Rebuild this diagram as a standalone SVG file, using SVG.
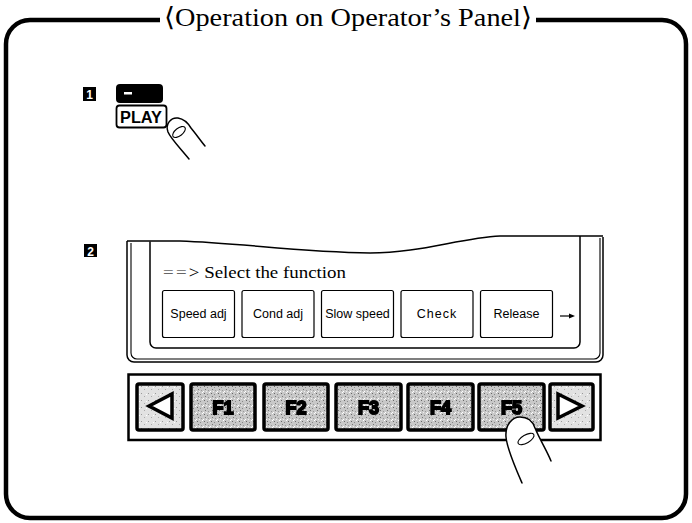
<svg xmlns="http://www.w3.org/2000/svg" width="692" height="523" viewBox="0 0 692 523">
  <defs>
    <pattern id="stipple" width="7" height="7" patternUnits="userSpaceOnUse">
      <rect width="7" height="7" fill="#c8c8c8"/>
      <rect x="1" y="1" width="1" height="1" fill="#666"/>
      <rect x="4" y="2" width="1" height="1" fill="#888"/>
      <rect x="2" y="4" width="1" height="1" fill="#777"/>
      <rect x="5" y="5" width="1" height="1" fill="#999"/>
      <rect x="6" y="0" width="1" height="1" fill="#fff"/>
      <rect x="0" y="6" width="1" height="1" fill="#fff"/>
      <rect x="3" y="6" width="1" height="1" fill="#eee"/>
    </pattern>
    <pattern id="stippleLight" width="7" height="7" patternUnits="userSpaceOnUse">
      <rect width="7" height="7" fill="#e2e2e2"/>
      <rect x="1" y="1" width="1" height="1" fill="#999"/>
      <rect x="4" y="4" width="1" height="1" fill="#aaa"/>
      <rect x="6" y="2" width="1" height="1" fill="#fff"/>
    </pattern>
    <filter id="smear" x="-20%" y="-20%" width="140%" height="140%">
      <feGaussianBlur stdDeviation="0.7"/>
    </filter>
  </defs>
  <style>
    .frame { fill: none; stroke: #000; stroke-width: 4.5; }
    .title { font-family: "Liberation Serif", "DejaVu Serif", serif; font-size: 26px; fill: #000; }
    .step { fill: #000; }
    .stepnum { font-family: "Liberation Sans", Arial, sans-serif; font-weight: bold; font-size: 12px; fill: #fff; }
    .line { fill: none; stroke: #000; stroke-width: 1.5; }
    .thin { fill: none; stroke: #000; stroke-width: 1.1; }
    .soft { fill: #fff; stroke: #000; stroke-width: 1.2; }
    .softtxt { font-family: "Liberation Sans", Arial, sans-serif; font-size: 12.5px; fill: #000; text-anchor: middle; }
    .msg { font-family: "Liberation Serif", "DejaVu Serif", serif; font-size: 17px; fill: #000; }
    .key { fill: url(#stipple); stroke: #000; stroke-width: 3.5; }
    .keyl { fill: url(#stippleLight); stroke: #000; stroke-width: 3.5; }
    .fk { font-family: "Liberation Sans", Arial, sans-serif; font-weight: bold; font-size: 18px; fill: #000; stroke: #000; stroke-width: 1.8; text-anchor: middle; }
    .tri { fill: #fff; stroke: #000; stroke-width: 3.5; stroke-linejoin: miter; }
    .finger { fill: #fff; stroke: #000; stroke-width: 1.5; stroke-linecap: round; }
  </style>

  <!-- outer frame with title gap -->
  <g id="frame">
    <path class="frame" d="M 160 20 H 30 A 24 24 0 0 0 6 44 V 494 A 24 24 0 0 0 30 518 H 662 A 24 24 0 0 0 686 494 V 44 A 24 24 0 0 0 662 20 H 536"/>
    <text class="title" x="348" y="26" text-anchor="middle" textLength="368" lengthAdjust="spacingAndGlyphs">⟨Operation on Operator’s Panel⟩</text>
  </g>

  <!-- step 1: dash key and PLAY key -->
  <g id="step1">
    <rect class="step" x="83" y="87" width="13" height="14"/>
    <text class="stepnum" x="89.5" y="99" text-anchor="middle">1</text>
    <rect x="116" y="84" width="47" height="19" rx="4" fill="#000"/>
    <rect x="124" y="92" width="8" height="2.5" fill="#fff"/>
    <rect x="116.5" y="105.5" width="50" height="22" rx="3" fill="#fff" stroke="#000" stroke-width="1.8"/>
    <text x="120" y="123" font-family="Liberation Sans, Arial, sans-serif" font-weight="bold" font-size="16" fill="#000" textLength="42" lengthAdjust="spacingAndGlyphs">PLAY</text>
    <path class="finger" d="M 189 159 C 181 149, 171 139, 168 132 C 165 124, 171 117, 178 118 C 184 119, 188 123, 191 128 C 196 134, 200 140, 205 146"/>
    <ellipse cx="179" cy="132" rx="7.5" ry="3.8" transform="rotate(-38 179 132)" fill="#fff" stroke="#000" stroke-width="1.1"/>
  </g>

  <!-- step 2 label -->
  <g id="step2">
    <rect class="step" x="84" y="244" width="13" height="13"/>
    <text class="stepnum" x="90.5" y="255.5" text-anchor="middle">2</text>
  </g>

  <!-- display unit with curled screen -->
  <g id="display">
    <!-- bezel (double outline) -->
    <path class="line" d="M 127 241 V 355 A 7 7 0 0 0 134 362 H 596 A 7 7 0 0 0 603 355 V 237"/>
    <path class="thin" d="M 131 243 V 353 A 6 6 0 0 0 137 359 H 594 A 6 6 0 0 0 600 353 V 238"/>
    <!-- curled top edge -->
    <path class="line" d="M 127 241 L 180 241 C 240 243 300 252 370 253 C 420 253 460 238 500 236 L 603 236"/>
    <!-- screen -->
    <path class="line" d="M 150 241.5 V 342 A 6 6 0 0 0 156 348 H 574 A 6 6 0 0 0 580 342 V 236"/>
    <text class="msg" x="163" y="278" textLength="183" lengthAdjust="spacingAndGlyphs"><tspan fill="#666" letter-spacing="2">==</tspan>&gt; Select the function</text>
  </g>

  <!-- soft keys -->
  <g id="soft-speed"><rect class="soft" x="162.5" y="290.5" width="72" height="47" rx="2"/><text class="softtxt" x="198.5" y="318">Speed adj</text></g>
  <g id="soft-cond"><rect class="soft" x="242" y="290.5" width="72" height="47" rx="2"/><text class="softtxt" x="278" y="318">Cond adj</text></g>
  <g id="soft-slow"><rect class="soft" x="321.5" y="290.5" width="72" height="47" rx="2"/><text class="softtxt" x="357.5" y="318">Slow speed</text></g>
  <g id="soft-check"><rect class="soft" x="401" y="290.5" width="72" height="47" rx="2"/><text class="softtxt" x="437" y="318" letter-spacing="1">Check</text></g>
  <g id="soft-release"><rect class="soft" x="480.5" y="290.5" width="72" height="47" rx="2"/><text class="softtxt" x="516.5" y="318">Release</text></g>
  <g id="more">
    <line x1="560" y1="316" x2="571" y2="316" stroke="#000" stroke-width="1.2"/>
    <polygon points="575,316 569,313.5 569,318.5" fill="#000"/>
  </g>

  <!-- function key strip -->
  <g id="keybar">
    <rect x="128.5" y="374.5" width="472" height="65.5" fill="#fff" stroke="#000" stroke-width="2.5"/>
  </g>
  <g id="key-left"><rect class="keyl" x="137" y="384" width="46" height="46" rx="2"/><polygon class="tri" points="149,406 172,394 172,418"/></g>
  <g id="key-f1"><rect class="key" x="191" y="384" width="64" height="46" rx="2"/><text class="fk" x="223" y="414" filter="url(#smear)">F1</text></g>
  <g id="key-f2"><rect class="key" x="264" y="384" width="64" height="46" rx="2"/><text class="fk" x="296" y="414" filter="url(#smear)">F2</text></g>
  <g id="key-f3"><rect class="key" x="336" y="384" width="65" height="46" rx="2"/><text class="fk" x="368.5" y="414" filter="url(#smear)">F3</text></g>
  <g id="key-f4"><rect class="key" x="408" y="384" width="65" height="46" rx="2"/><text class="fk" x="440.5" y="414" filter="url(#smear)">F4</text></g>
  <g id="key-f5"><rect class="key" x="479" y="384" width="65" height="46" rx="2"/><text class="fk" x="511.5" y="414" filter="url(#smear)">F5</text></g>
  <g id="key-right"><rect class="keyl" x="550" y="384" width="43" height="46" rx="2"/><polygon class="tri" points="558,394 558,418 582,406"/></g>

  <!-- finger pressing F5 -->
  <g id="finger-f5">
    <path class="finger" d="M 522 483 C 515 467, 507 449, 506 437 C 505 425, 512 417, 520 417 C 528 417, 533 422, 535 428 C 540 440, 547 451, 551 461"/>
    <ellipse cx="526" cy="439" rx="9" ry="4" transform="rotate(-30 526 439)" fill="#fff" stroke="#000" stroke-width="1.1"/>
  </g>
</svg>
